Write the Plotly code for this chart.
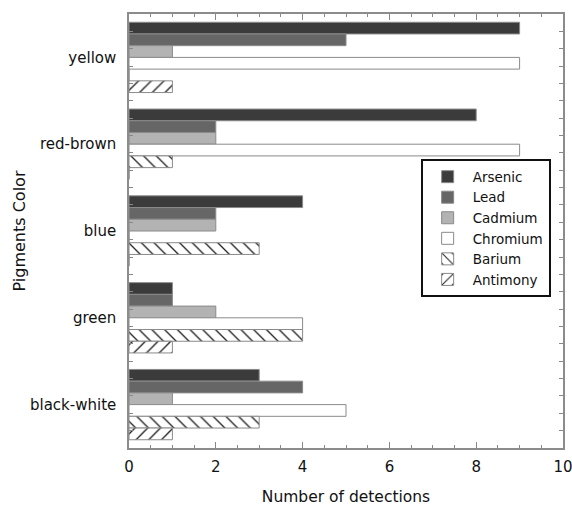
import plotly.graph_objects as go

categories = ["yellow", "red-brown", "blue", "green", "black-white"]
series_names = ["Arsenic", "Lead", "Cadmium", "Chromium", "Barium", "Antimony"]
arsenic = [9, 8, 4, 1, 3]
lead = [5, 2, 2, 1, 4]
cadmium = [1, 2, 2, 2, 1]
chromium = [9, 9, 0, 4, 5]
barium = [0, 1, 3, 4, 3]
antimony = [1, 0, 0, 1, 1]
x_ticks = [0, 2, 4, 6, 8, 10]

values = [arsenic, lead, cadmium, chromium, barium, antimony]
fills = ["#3b3b3b", "#666666", "#b3b3b3", "#ffffff", "#ffffff", "#ffffff"]
patterns = ["", "", "", "", "\\", "/"]

fig = go.Figure()
for name, vals, col, pat in zip(series_names, values, fills, patterns):
    marker = dict(color=col, line=dict(color="#8a8a8a", width=1))
    if pat:
        marker["pattern"] = dict(shape=pat, fgcolor="#222222", bgcolor="#ffffff",
                                 size=9, solidity=0.15, fillmode="replace")
    fig.add_trace(go.Bar(name=name, y=categories, x=vals, orientation="h",
                         marker=marker))

# invisible trace to carry a minor-tick overlay axis
fig.add_trace(go.Scatter(x=[0], y=[0], yaxis="y2", mode="markers",
                         marker=dict(opacity=0), showlegend=False, hoverinfo="skip"))

font = "DejaVu Sans, Lucida Grande, Arial, sans-serif"
fig.update_layout(
    width=572, height=506,
    margin=dict(l=129, r=9, t=14, b=58),
    paper_bgcolor="white", plot_bgcolor="white",
    barmode="group", bargap=0.19, bargroupgap=0,
    font=dict(family=font, size=14, color="#111111"),
    xaxis=dict(range=[0, 10], tickvals=x_ticks, ticks="inside", ticklen=6,
               tickcolor="#888888", showline=True, linecolor="#8c8c8c", linewidth=1.5,
               mirror="ticks", showgrid=False, zeroline=False, automargin=False,
               tickfont=dict(size=15, color="#111111"), ticklabelstandoff=4,
               ticklabeloverflow="allow",
               minor=dict(dtick=0.5, ticks="inside", ticklen=3, tickcolor="#888888"),
               title=dict(text="Number of detections", font=dict(size=15.5), standoff=16)),
    yaxis=dict(autorange="reversed", showline=True, linecolor="#8c8c8c", linewidth=1.5,
               mirror=True, ticks="", showgrid=False, zeroline=False, automargin=False,
               tickfont=dict(size=15, color="#111111"), ticklabelstandoff=8,
               title=dict(text="Pigments Color", font=dict(size=16), standoff=0)),
    yaxis2=dict(overlaying="y", range=[-0.5, 4.5], dtick=0.2, tick0=-0.5,
                showticklabels=False, ticks="inside", ticklen=4, tickcolor="#888888",
                showgrid=False, zeroline=False, side="right", mirror="allticks",
                showline=True, linecolor="#8c8c8c", linewidth=1.5, automargin=False),
    legend=dict(x=0.672, y=0.665, xanchor="left", yanchor="top",
                bgcolor="white", bordercolor="#111111", borderwidth=2,
                font=dict(size=13.5, color="#111111"), tracegroupgap=0,
                itemwidth=40),
    showlegend=True,
)

fig.write_html("out.html", config={"displayModeBar": False},
               post_script="document.body.style.margin='0';")
